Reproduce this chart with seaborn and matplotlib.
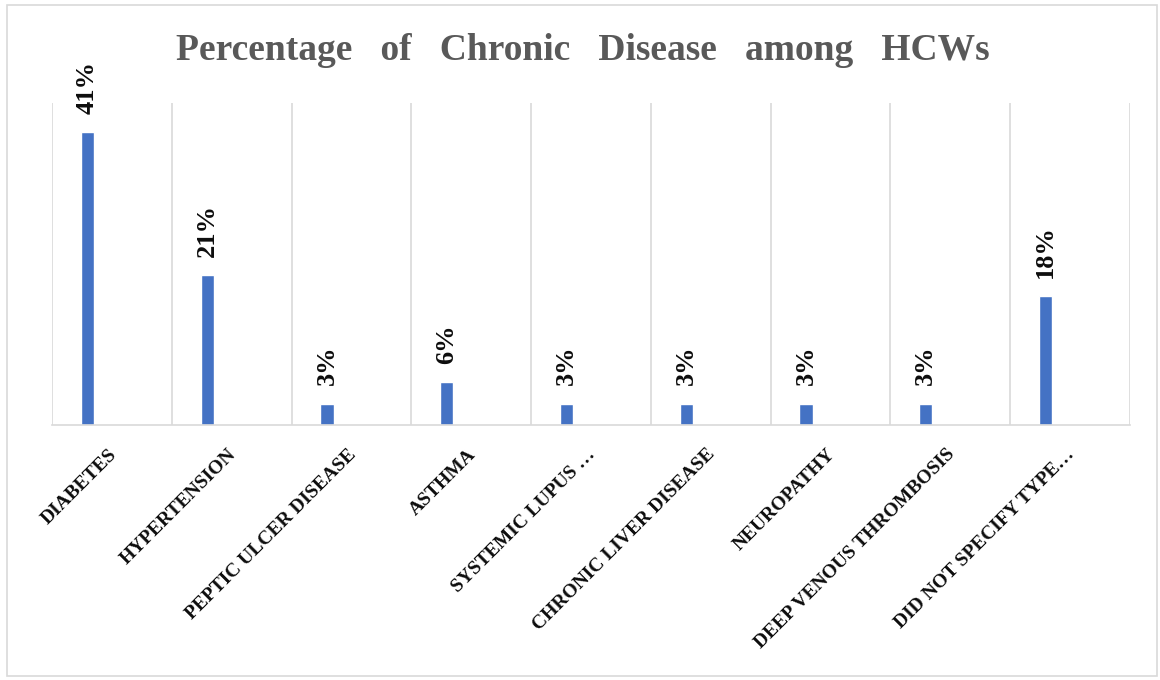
import matplotlib
matplotlib.use("Agg")
import matplotlib.pyplot as plt
from matplotlib.patches import Rectangle
import seaborn as sns
import pandas as pd

# Chronic disease categories and share of HCWs reporting each one (%)
categories = [
    "Diabetes",
    "Hypertension",
    "Peptic Ulcer Disease",
    "Asthma",
    "Systemic Lupus …",
    "Chronic Liver Disease",
    "Neuropathy",
    "Deep Venous Thrombosis",
    "Did not specify type…",
]
percentages = [41, 21, 3, 6, 3, 3, 3, 3, 18]
value_labels = [f"{v}%" for v in percentages]
title_text = "Percentage   of   Chronic   Disease   among   HCWs"

df = pd.DataFrame({"category": categories, "pct": percentages})

sns.set_theme(style="white")
plt.rcParams["font.family"] = ["Liberation Serif", "DejaVu Serif"]

fig = plt.figure(figsize=(11.6, 6.8), dpi=100)
ax = fig.add_axes([0.0448, 0.375, 0.9293, 0.4735])

sns.barplot(data=df, x="category", y="pct", color="#4472C4",
            width=0.11, saturation=1, ax=ax)

n = len(categories)
# Each bar sits left of its category cell, as in a clustered column layout
left_pad = 0.296
ax.set_xlim(-left_pad, n - left_pad)
ax.set_ylim(0, 45)

# Vertical category separators
for i in range(n + 1):
    ax.axvline(i - left_pad, color="#D9D9D9", lw=1.2, zorder=0)

for s in ["top", "right", "left"]:
    ax.spines[s].set_visible(False)
ax.spines["bottom"].set_color("#D9D9D9")
ax.spines["bottom"].set_linewidth(1.2)
ax.set_yticks([])
ax.set_xticks([])
ax.set_xlabel("")
ax.set_ylabel("")

# Value labels above the bars
for i, (v, lab) in enumerate(zip(percentages, value_labels)):
    ax.annotate(lab, xy=(i, v), xytext=(0, 13), textcoords="offset points",
                rotation=90, ha="center", va="bottom",
                fontsize=19, fontweight="bold", color="#0D0D0D",
                annotation_clip=False)

# Rotated category labels ending at the centre of each cell
centre_shift = 0.5 - left_pad
for i, cat in enumerate(categories):
    ax.annotate(cat.upper(), xy=(i + centre_shift, 0), xytext=(-3, -15),
                textcoords="offset points", rotation=45,
                rotation_mode="anchor", ha="right", va="top",
                fontsize=14, fontweight="bold", color="#0D0D0D",
                annotation_clip=False)

fig.text(0.502, 0.926, title_text, ha="center", va="center",
         fontsize=27, fontweight="bold", color="#595959")

# Chart area border
fig.patches.append(Rectangle((0.006, 0.006), 0.991, 0.986,
                             transform=fig.transFigure, fill=False,
                             edgecolor="#D9D9D9", lw=1.2))

fig.savefig("out.png", dpi=100, facecolor="white")
